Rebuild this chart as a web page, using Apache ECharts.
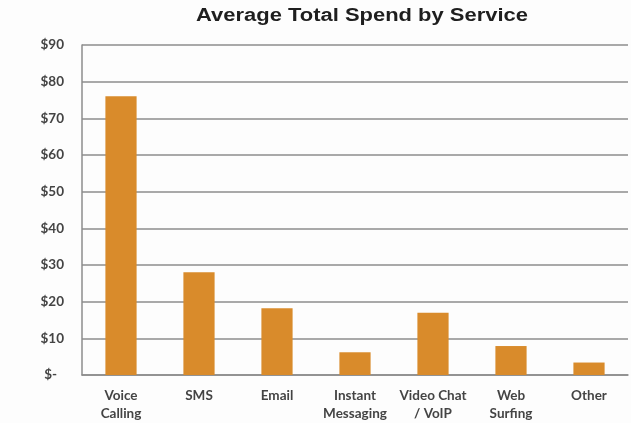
<!DOCTYPE html>
<html>
<head>
<meta charset="utf-8">
<script src="https://cdn.jsdelivr.net/npm/echarts@6/dist/echarts.min.js"></script>
<style>
  html, body { margin: 0; padding: 0; background: #fdfdfd; }
  #chart { width: 631px; height: 423px; }
</style>
</head>
<body>
<div id="chart"></div>
<script>
// Average spend per service, in dollars
const categories = ['Voice\nCalling', 'SMS', 'Email', 'Instant\nMessaging', 'Video Chat\n/ VoIP', 'Web\nSurfing', 'Other'];
const spend = [76, 28, 18.2, 6.2, 17, 7.9, 3.4];
const yTicks = [0, 10, 20, 30, 40, 50, 60, 70, 80, 90];
const titleText = 'Average Total Spend by Service';

const labelFont = 'Lato, "Open Sans", sans-serif';

const chart = echarts.init(document.getElementById('chart'), null, { renderer: 'canvas' });

chart.setOption({
  backgroundColor: '#fdfdfd',
  animation: false,
  // Title drawn as a widened text element
  graphic: [{
    type: 'text',
    x: 196,
    y: 7,
    scaleX: 1.22,
    style: {
      text: titleText,
      font: 'bold 18px "Liberation Sans", Arial, sans-serif',
      fill: '#1e1e1e',
      textAlign: 'left',
      textVerticalAlign: 'top'
    }
  }],
  grid: { left: 82, right: 3, top: 45, bottom: 48, containLabel: false },
  xAxis: {
    type: 'category',
    data: categories,
    axisTick: { show: false },
    axisLine: { show: true, lineStyle: { color: '#8c8c8c', width: 1.5 } },
    axisLabel: {
      interval: 0,
      margin: 12,
      fontFamily: labelFont,
      fontSize: 13.5,
      fontWeight: 'bold',
      color: '#444',
      lineHeight: 18
    }
  },
  yAxis: {
    type: 'value',
    min: yTicks[0],
    max: yTicks[yTicks.length - 1],
    interval: 10,
    axisLine: { show: true, lineStyle: { color: '#8c8c8c', width: 1.5 } },
    axisTick: { show: false },
    splitLine: { lineStyle: { color: '#8c8c8c', width: 1.5 } },
    axisLabel: {
      margin: 18,
      fontFamily: labelFont,
      fontSize: 13.5,
      fontWeight: 'bold',
      color: '#444',
      formatter: v => v === 0 ? '{z|$-}' : '$' + v,
      rich: {
        z: {
          fontFamily: labelFont,
          fontSize: 13.5,
          fontWeight: 'bold',
          color: '#444',
          padding: [0, 7, 0, 0]
        }
      }
    }
  },
  series: [{
    type: 'bar',
    data: spend,
    barWidth: '40%',
    itemStyle: { color: '#d98b2b' }
  }]
});
</script>
</body>
</html>
